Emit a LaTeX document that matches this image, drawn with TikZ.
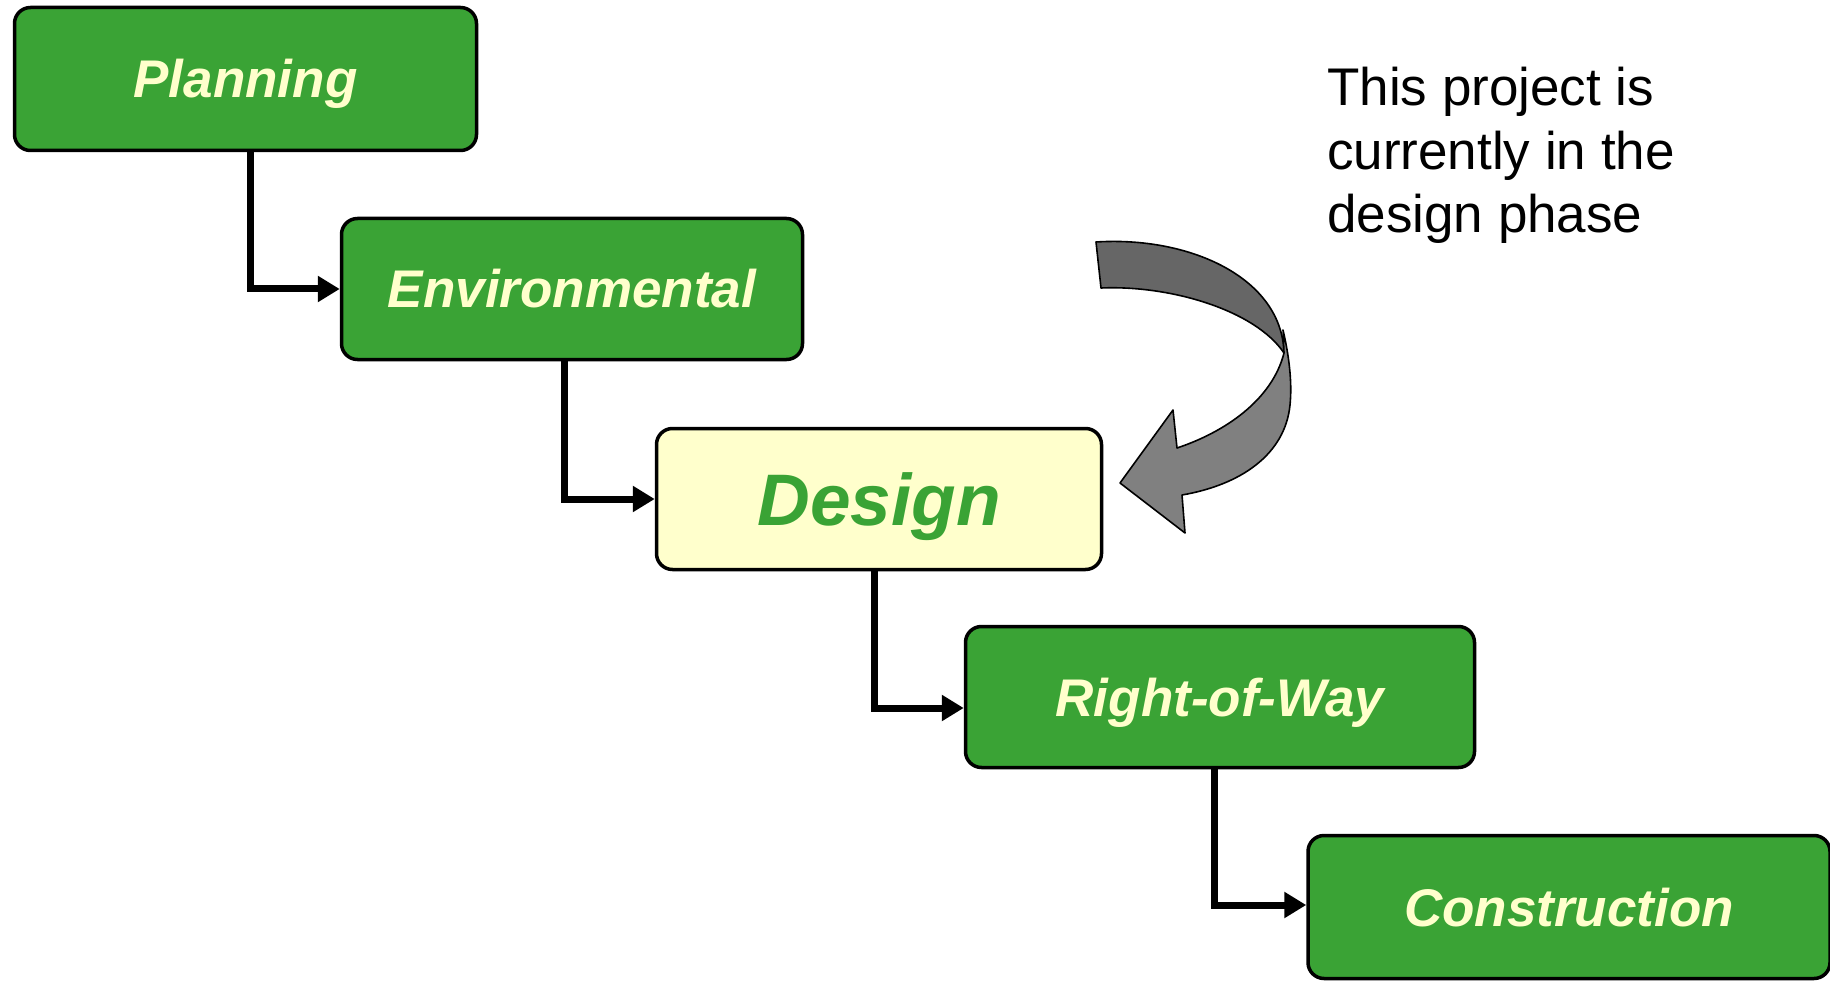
\documentclass[tikz,border=0pt]{standalone}
\usepackage{fontspec}
\setmainfont{Liberation Sans}
\usetikzlibrary{arrows.meta,calc}
\definecolor{boxgreen}{RGB}{58,163,53}
\definecolor{paleyel}{RGB}{255,255,204}
\definecolor{darkgr}{RGB}{102,102,102}
\definecolor{lightgr}{RGB}{128,128,128}
\begin{document}
\begin{tikzpicture}[x=1pt,y=-1pt,
  phase/.style={draw=black, line width=3.5pt, rounded corners=16pt, fill=boxgreen,
    text=paleyel, font=\fontsize{53}{60}\selectfont\bfseries\itshape,
    text height=38pt, text depth=0pt, inner sep=0pt},
  current/.style={phase, fill=paleyel, text=boxgreen,
    font=\fontsize{73}{80}\selectfont\bfseries\itshape, text height=52pt},
  link/.style={line width=7pt, -{Triangle[length=22pt,width=25pt]}},
  bandstyle/.style={draw=black, line width=1.6pt, line join=round}
]
\useasboundingbox (0,0) rectangle (1830,981);

\node[phase, minimum width=462pt, minimum height=143pt] (pl) at (245.5,79) {Planning};
\node[phase, minimum width=461pt, minimum height=141pt] (env) at (572,289) {Environmental};
\node[current, minimum width=445pt, minimum height=141pt] (des) at (879,499) {Design};
\node[phase, minimum width=509pt, minimum height=141pt] (row) at (1220,697) {Right-of-Way};
\node[phase, minimum width=522pt, minimum height=143pt] (con) at (1569,907) {Construction};

\draw[link] ([xshift=4.5pt]pl.south) |- (env.west);
\draw[link] ([xshift=-8pt]env.south) |- (des.west);
\draw[link] ([xshift=-5pt]des.south) |- ([yshift=-11pt]row.west);
\draw[link] ([xshift=-6pt]row.south) |- ([yshift=2pt]con.west);

\node[anchor=base west, align=left, inner sep=0pt,
  font=\fontsize{53}{63.5}\selectfont] (note) at (1327,233)
  {This project is\\currently in the\\design phase};

% curved arrow: back band
\filldraw[bandstyle, fill=darkgr]
  (1096,242) .. controls (1190,236) and (1282,278) .. (1284,353)
  .. controls (1255,310) and (1170,285) .. (1101,288) -- cycle;
% curved arrow: front band with head
\filldraw[bandstyle, fill=lightgr]
  (1283,330) .. controls (1290,360) and (1292,385) .. (1290,405)
  .. controls (1285,455) and (1240,485) .. (1182,495)
  -- (1185,533) -- (1120,483) -- (1173,410) -- (1177,448)
  .. controls (1225,432) and (1272,400) .. (1284,353) -- cycle;
\end{tikzpicture}
\end{document}
